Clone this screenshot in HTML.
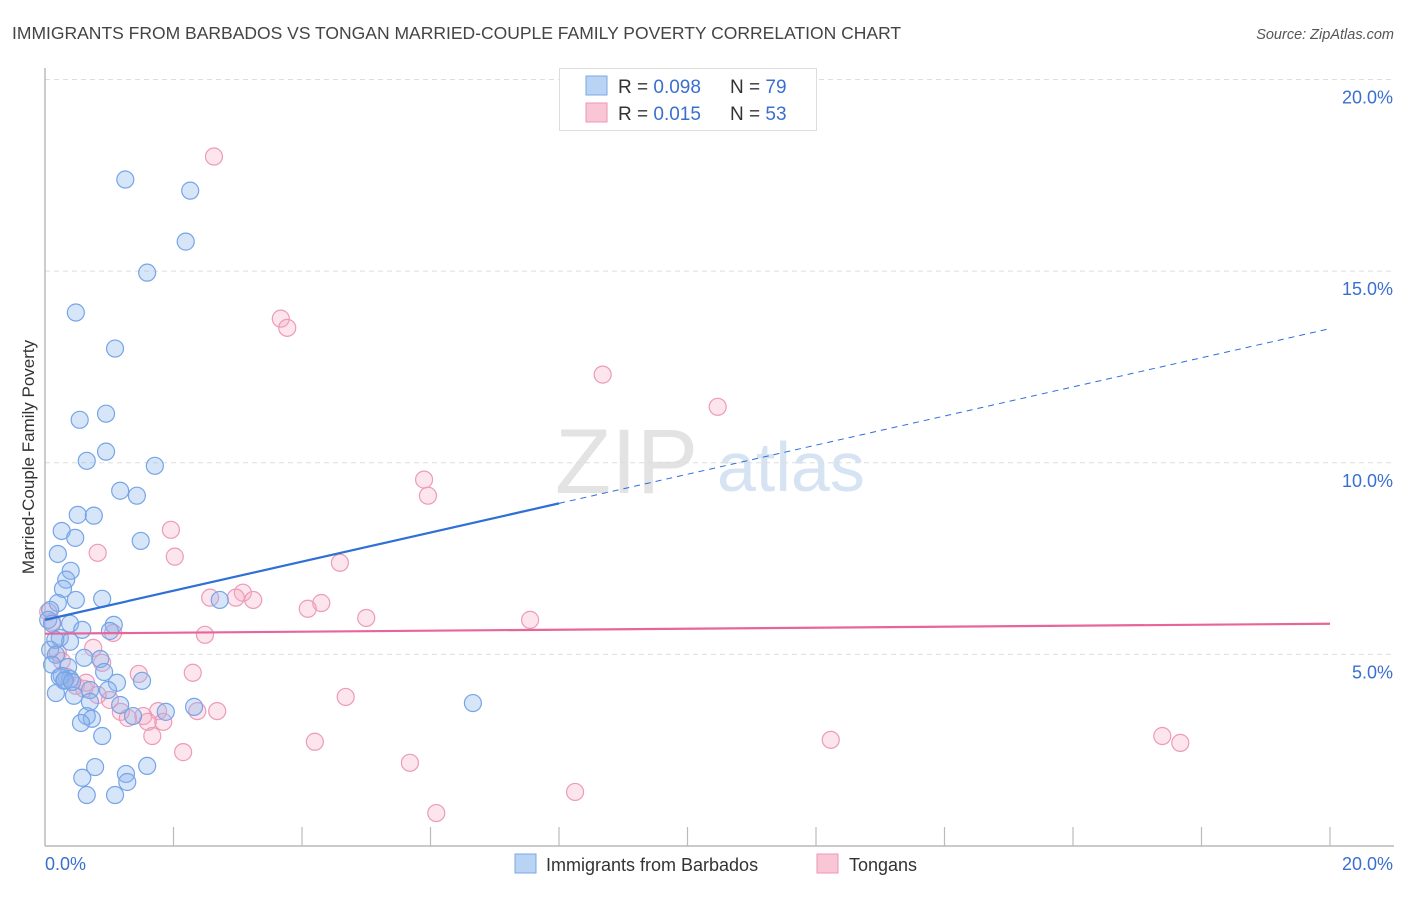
<!DOCTYPE html>
<html><head><meta charset="utf-8"><style>
body{margin:0;background:#fff;font-family:"Liberation Sans",sans-serif;}
svg text{font-family:"Liberation Sans",sans-serif;}
</style></head><body>
<svg id="chart" width="1406" height="892" viewBox="0 0 1406 892" xmlns="http://www.w3.org/2000/svg">
<text x="12" y="39" font-size="17.5" fill="#444">IMMIGRANTS FROM BARBADOS VS TONGAN MARRIED-COUPLE FAMILY POVERTY CORRELATION CHART</text>
<text x="1394" y="39" font-size="14.5" fill="#555" font-style="italic" text-anchor="end">Source: ZipAtlas.com</text>
<text transform="translate(34,457) rotate(-90)" font-size="17" fill="#333" text-anchor="middle">Married-Couple Family Poverty</text>
<g>
<text x="555" y="493" font-size="92" fill="#d8d8d8" font-family="Liberation Serif" opacity="0.7">ZIP</text>
<text x="717" y="491" font-size="70" fill="#c5d8ee" opacity="0.7">atlas</text>
</g>
<g id="grid"></g>
<g id="axes"></g>
<g id="marks"></g>
<g>
<rect x="559.5" y="68.5" width="257" height="62" fill="#fff" stroke="#ddd"/>
<rect x="586" y="76" width="21" height="19" fill="#b9d3f5" stroke="#7aa7e6"/>
<rect x="586" y="103" width="21" height="19" fill="#f9c6d6" stroke="#ec95b5"/>
<text x="618" y="93" font-size="19" fill="#333">R = <tspan fill="#3a6fd0">0.098</tspan></text>
<text x="730" y="93" font-size="19" fill="#333">N = <tspan fill="#3a6fd0">79</tspan></text>
<text x="618" y="120" font-size="19" fill="#333">R =  <tspan fill="#3a6fd0">0.015</tspan></text>
<text x="730" y="120" font-size="19" fill="#333">N = <tspan fill="#3a6fd0">53</tspan></text>
</g>
<g>
<rect x="515" y="854" width="21" height="19" fill="#b9d3f5" stroke="#7aa7e6"/>
<text x="546" y="871" font-size="18" fill="#333">Immigrants from Barbados</text>
<rect x="817" y="854" width="21" height="19" fill="#f9c6d6" stroke="#ec95b5"/>
<text x="849" y="871" font-size="18" fill="#333">Tongans</text>
</g>
</svg>
<script>
const blueX=[1.25,2.26,2.19,1.59,0.48,1.09,0.95,0.54,0.95,0.65,1.71,1.17,1.43,0.51,0.76,0.26,0.47,1.49,0.20,0.40,0.33,0.28,0.89,0.48,0.20,0.08,2.72,0.05,0.11,0.39,1.07,1.01,0.58,0.23,0.39,0.08,0.17,0.61,0.86,0.11,0.36,0.92,0.26,0.39,0.31,1.12,1.51,0.70,0.17,0.45,0.70,1.17,6.66,2.32,1.88,1.37,0.65,0.73,0.56,0.89,0.78,1.59,1.26,0.58,1.28,0.65,1.09,0.23,0.30,0.16,0.42,0.98];
const blueY=[17.39,17.10,15.77,14.96,13.92,12.98,11.28,11.12,10.29,10.05,9.92,9.27,9.14,8.64,8.62,8.22,8.04,7.96,7.62,7.18,6.95,6.71,6.45,6.42,6.34,6.16,6.42,5.90,5.80,5.80,5.77,5.61,5.64,5.43,5.33,5.12,4.99,4.91,4.88,4.73,4.67,4.54,4.44,4.36,4.33,4.26,4.31,4.07,3.99,3.92,3.76,3.68,3.73,3.63,3.50,3.39,3.39,3.32,3.21,2.87,2.06,2.09,1.88,1.78,1.67,1.33,1.33,4.41,4.31,5.38,4.28,4.07];
const pinkX=[2.63,3.67,3.77,8.68,10.47,5.90,5.96,1.96,0.82,2.02,4.59,3.08,2.57,3.24,2.97,4.30,4.09,5.00,7.55,0.05,0.11,1.06,2.49,0.75,0.20,0.89,1.46,2.30,0.34,0.48,0.61,4.68,1.01,1.18,1.76,2.68,2.37,1.53,1.84,1.29,1.67,4.20,12.23,17.39,17.67,2.15,5.68,8.25,6.09,0.64,0.82,0.26,1.60];
const pinkY=[17.99,13.76,13.52,12.30,11.46,9.56,9.14,8.25,7.65,7.55,7.39,6.61,6.48,6.42,6.48,6.34,6.19,5.95,5.90,6.11,5.85,5.56,5.51,5.17,5.04,4.78,4.49,4.52,4.41,4.18,4.10,3.89,3.81,3.50,3.52,3.52,3.52,3.39,3.24,3.34,2.87,2.72,2.77,2.87,2.69,2.45,2.17,1.41,0.86,4.26,3.94,4.83,3.24];
const blueTrend=[5.9,0.38];   // intercept, slope
const pinkTrend=[5.54,0.013];
const yTicks=[5,10,15,20];
const yTickLabels=["5.0%","10.0%","15.0%","20.0%"];
const xTickCount=10;

const NS="http://www.w3.org/2000/svg";
const X0=45,X1=1330,Y0=846,Y20=79.5;
const sx=v=>X0+(v/20)*(X1-X0);
const sy=v=>Y0-(v/20)*(Y0-Y20);
function mk(tag,attrs,parent){const e=document.createElementNS(NS,tag);for(const k in attrs)e.setAttribute(k,attrs[k]);parent.appendChild(e);return e;}
const grid=document.getElementById('grid'),axes=document.getElementById('axes'),marks=document.getElementById('marks');
yTicks.forEach((t,i)=>{
  const g=mk('line',{x1:X0,x2:1394,y1:sy(t),y2:sy(t),stroke:'#ddd','stroke-dasharray':'5,4'},grid);
  
  
  const l=mk('text',{x:1393,y:sy(t)+24,'font-size':18,fill:'#3a6fd0','text-anchor':'end'},axes);
  l.textContent=yTickLabels[i];
  
  
});
const ya=mk('line',{x1:X0,x2:X0,y1:68,y2:Y0,stroke:'#aaa','stroke-width':1.2},axes);


const xa=mk('line',{x1:X0,x2:1394,y1:Y0,y2:Y0,stroke:'#aaa','stroke-width':1.2},axes);


for(let i=1;i<=xTickCount;i++){
  const x=sx(i*20/xTickCount);
  const t=mk('line',{x1:x,x2:x,y1:827,y2:Y0,stroke:'#bbb','stroke-width':1.2},axes);
  
  
}
const xl0=mk('text',{x:45,y:870,'font-size':18,fill:'#3a6fd0'},axes);xl0.textContent='0.0%';


const xl1=mk('text',{x:1393,y:870,'font-size':18,fill:'#3a6fd0','text-anchor':'end'},axes);xl1.textContent='20.0%';



pinkX.forEach((v,i)=>{
  const c=mk('circle',{cx:sx(v),cy:sy(pinkY[i]),r:8.5,fill:'rgba(244,170,196,0.3)',stroke:'#ec9bb9','stroke-width':1.2},marks);
  
  
});
blueX.forEach((v,i)=>{
  const c=mk('circle',{cx:sx(v),cy:sy(blueY[i]),r:8.5,fill:'rgba(140,180,238,0.35)',stroke:'#76a5e6','stroke-width':1.2},marks);
  
  
});
const bf=x=>blueTrend[0]+blueTrend[1]*x, pf=x=>pinkTrend[0]+pinkTrend[1]*x;
const b1=mk('line',{x1:sx(0),y1:sy(bf(0)),x2:sx(8),y2:sy(bf(8)),stroke:'#2f6fd6','stroke-width':2.2},marks);


const b2=mk('line',{x1:sx(8),y1:sy(bf(8)),x2:sx(20),y2:sy(bf(20)),stroke:'#2f6fd6','stroke-width':1,'stroke-dasharray':'6,5'},marks);


const p1=mk('line',{x1:sx(0),y1:sy(pf(0)),x2:sx(20),y2:sy(pf(20)),stroke:'#e8659a','stroke-width':2.2},marks);


</script>
</body></html>
